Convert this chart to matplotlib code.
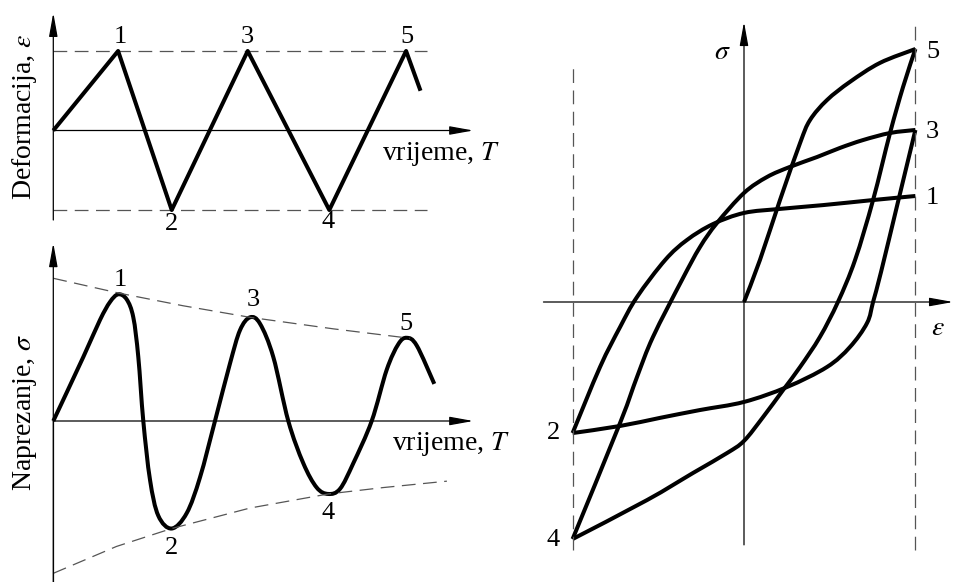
import matplotlib
matplotlib.use("Agg")
import matplotlib.pyplot as plt
import numpy as np
from matplotlib.path import Path
from matplotlib.patches import PathPatch

plt.rcParams['font.family'] = ['Liberation Serif', 'DejaVu Serif']
plt.rcParams['mathtext.fontset'] = 'stix'

# ---------------- data (schematic) ----------------
# top-left: strain vs time (time in arbitrary units, strain normalised to amplitude)
strain_t = [0.0, 0.81, 1.48, 2.43, 3.45, 4.41, 4.59]
strain_v = [0.0, 1.0, -1.0, 1.0, -1.0, 1.0, 0.5]
strain_peak_labels = ['1', '2', '3', '4', '5']
strain_label_t = [0.834, 1.48, 2.42, 3.44, 4.42]
strain_label_v = [1.18, -1.17, 1.18, -1.15, 1.18]

# bottom-left: stress vs time
stress_t = [0.0, 0.375, 0.584, 0.709, 0.8125, 0.9175, 1.0, 1.0625, 1.125,
            1.209, 1.3125, 1.48, 1.6675, 1.834, 2.021, 2.209, 2.334,
            2.459, 2.584, 2.75, 2.9375, 3.125, 3.2925, 3.4375,
            3.584, 3.75, 3.98, 4.1675, 4.3125, 4.4175, 4.5425, 4.7625]
stress_v = [0.0, 0.50, 0.79, 0.93, 0.99, 0.95, 0.81, 0.50, 0.0,
            -0.46, -0.74, -0.84, -0.72, -0.44, 0.0, 0.45, 0.71,
            0.81, 0.76, 0.50, 0.0, -0.33, -0.52, -0.57,
            -0.53, -0.33, 0.0, 0.40, 0.60, 0.65, 0.59, 0.29]
upper_env_t = [0.0, 0.8125, 1.625, 2.459, 3.5, 4.46]
upper_env_v = [1.115, 1.0, 0.90, 0.81, 0.72, 0.646]
lower_env_t = [0.0, 0.79, 1.48, 2.459, 3.4375, 4.125, 4.92]
lower_env_v = [-1.19, -0.98, -0.84, -0.68, -0.57, -0.52, -0.47]
stress_label_t = [0.835, 1.48, 2.50, 3.44, 4.41]
stress_label_v = [1.10, -0.995, 0.945, -0.72, 0.76]

# right: hysteresis loops (strain normalised to amplitude, stress to point 5)
c0_e = [0.0, 0.093, 0.21, 0.327, 0.385, 0.484, 0.618, 0.793, 1.0]
c0_s = [0.0, 0.166, 0.403, 0.628, 0.719, 0.798, 0.87, 0.945, 1.0]
c1_e = [1.0, 0.753, 0.461, 0.21, 0.0, -0.181, -0.333, -0.46, -0.624, -0.723, -0.84, -1.0]
c1_s = [0.419, 0.403, 0.383, 0.368, 0.352, 0.308, 0.245, 0.166, 0.02, -0.099, -0.257, -0.518]
c2_e = [-1.0, -0.723, -0.49, -0.257, 0.0, 0.251, 0.484, 0.618, 0.718,
        0.753, 0.80, 0.90, 1.0]
c2_s = [-0.518, -0.49, -0.458, -0.427, -0.395, -0.336, -0.257, -0.178, -0.083,
        0.0, 0.12, 0.40, 0.68]
c3_e = [1.0, 0.852, 0.694, 0.56, 0.426, 0.268, 0.134, 0.0, -0.158, -0.257, -0.362,
        -0.531, -0.624, -0.723, -1.0]
c3_s = [0.68, 0.668, 0.64, 0.609, 0.573, 0.534, 0.494, 0.431, 0.312, 0.217, 0.087,
        -0.138, -0.296, -0.478, -0.937]
c4_e = [-1.0, -0.566, -0.298, -0.099, 0.0, 0.111, 0.228, 0.327, 0.443, 0.548, 0.648,
        0.753, 0.852, 0.928, 1.0]
c4_s = [-0.937, -0.783, -0.676, -0.597, -0.549, -0.455, -0.348, -0.257, -0.138, 0.0, 0.166,
        0.403, 0.668, 0.85, 1.0]
loop_labels = ['5', '3', '1', '2', '4']
loop_label_e = [1.10, 1.10, 1.10, -1.114, -1.114]
loop_label_s = [0.988, 0.672, 0.41, -0.518, -0.94]

# ---------------- layout ----------------
W, H = 954, 582
fig = plt.figure(figsize=(W / 100, H / 100), dpi=100)


def panel(x0, y0, x1, y1, ox, oy, sx, sy):
    ax = fig.add_axes([x0 / W, 1 - y1 / H, (x1 - x0) / W, (y1 - y0) / H])
    ax.set_xlim((x0 - ox) / sx, (x1 - ox) / sx)
    ax.set_ylim((oy - y1) / sy, (oy - y0) / sy)
    ax.set_axis_off()
    return ax


THICK = dict(color='black', lw=2.9, solid_capstyle='butt', solid_joinstyle='round', clip_on=False)
AXLINE = dict(color='#222222', lw=0.9, clip_on=False)
DASH = dict(color='#555555', lw=0.9, dashes=(11, 6), clip_on=False)
FS_WORD = 20
FS_NUM = 19


def smooth_curve(ax, xs, ys):
    """Draw a smooth curve through the given points (cubic Bezier segments)."""
    disp = ax.transData.transform(np.column_stack([xs, ys]))
    n = len(disp)
    verts = [disp[0]]
    codes = [Path.MOVETO]
    for i in range(n - 1):
        p0 = disp[i - 1] if i > 0 else disp[i]
        p1, p2 = disp[i], disp[i + 1]
        p3 = disp[i + 2] if i + 2 < n else disp[i + 1]
        verts += [p1 + (p2 - p0) / 6.0, p2 - (p3 - p1) / 6.0, p2]
        codes += [Path.CURVE4] * 3
    patch = PathPatch(Path(verts, codes), transform=None, facecolor='none',
                      edgecolor='black', lw=2.9, capstyle='butt', joinstyle='round',
                      clip_on=False)
    ax.add_patch(patch)


def arrow(ax, start, tip):
    ax.annotate('', xy=tip, xytext=start,
                arrowprops=dict(arrowstyle='-|>,head_length=0.72,head_width=0.13',
                                mutation_scale=20, lw=0.9, color='black',
                                shrinkA=0, shrinkB=0), annotation_clip=False)


# ---- top-left: strain ----
ax1 = panel(0, 0, 520, 250, 53.3, 130.5, 80, 79.5)
ax1.plot([0, 4.67], [1, 1], **DASH)
ax1.plot([0, 4.67], [-1, -1], **DASH)
arrow(ax1, (0, 0), (5.25, 0))
arrow(ax1, (0, -1.126), (0, 1.48))
ax1.plot(strain_t, strain_v, **THICK)
for s, t, v in zip(strain_peak_labels, strain_label_t, strain_label_v):
    ax1.text(t, v, s, fontsize=FS_NUM, ha='center', va='center')
ax1.text(4.105, -0.37, 'vrijeme, $T$', fontsize=FS_WORD, ha='left', va='baseline')
ax1.text(-0.354, 0.17, r'Deformacija, $\varepsilon$', fontsize=FS_WORD, rotation=90,
         ha='center', va='center')

# ---- bottom-left: stress ----
ax2 = panel(0, 240, 520, 582, 53.3, 421, 80, 128)
ax2.plot(upper_env_t, upper_env_v, **DASH)
ax2.plot(lower_env_t, lower_env_v, **DASH)
arrow(ax2, (0, 0), (5.25, 0))
ax2.plot([0, 0], [-1.27, 0], **AXLINE)
arrow(ax2, (0, -1.27), (0, 1.39))
for s, t, v in zip(strain_peak_labels, stress_label_t, stress_label_v):
    ax2.text(t, v, s, fontsize=FS_NUM, ha='center', va='center')
ax2.text(4.23, -0.227, 'vrijeme, $T$', fontsize=FS_WORD, ha='left', va='baseline')
ax2.text(-0.354, 0.07, r'Naprezanje, $\sigma$', fontsize=FS_WORD, rotation=90,
         ha='center', va='center')

# ---- right: hysteresis ----
ax3 = panel(520, 0, 954, 582, 744, 302, 171.4, 253)
ax3.plot([-1, -1], [-0.98, 0.945], **DASH)
ax3.plot([1, 1], [-0.98, 1.095], **DASH)
arrow(ax3, (-1.17, 0), (1.22, 0))
arrow(ax3, (0, -0.96), (0, 1.107))
for lab, e, s in zip(loop_labels, loop_label_e, loop_label_s):
    ax3.text(e, s, lab, fontsize=FS_NUM, ha='center', va='center')
ax3.text(-0.128, 0.988, r'$\sigma$', fontsize=FS_WORD, ha='center', va='center')
ax3.text(1.13, -0.103, r'$\varepsilon$', fontsize=FS_WORD, ha='center', va='center')

# smooth curves need the final transforms, so draw them last
smooth_curve(ax2, stress_t, stress_v)
for e, s in [(c0_e, c0_s), (c1_e, c1_s), (c2_e, c2_s), (c3_e, c3_s), (c4_e, c4_s)]:
    smooth_curve(ax3, e, s)

fig.savefig('out.png', dpi=100, facecolor='white')
